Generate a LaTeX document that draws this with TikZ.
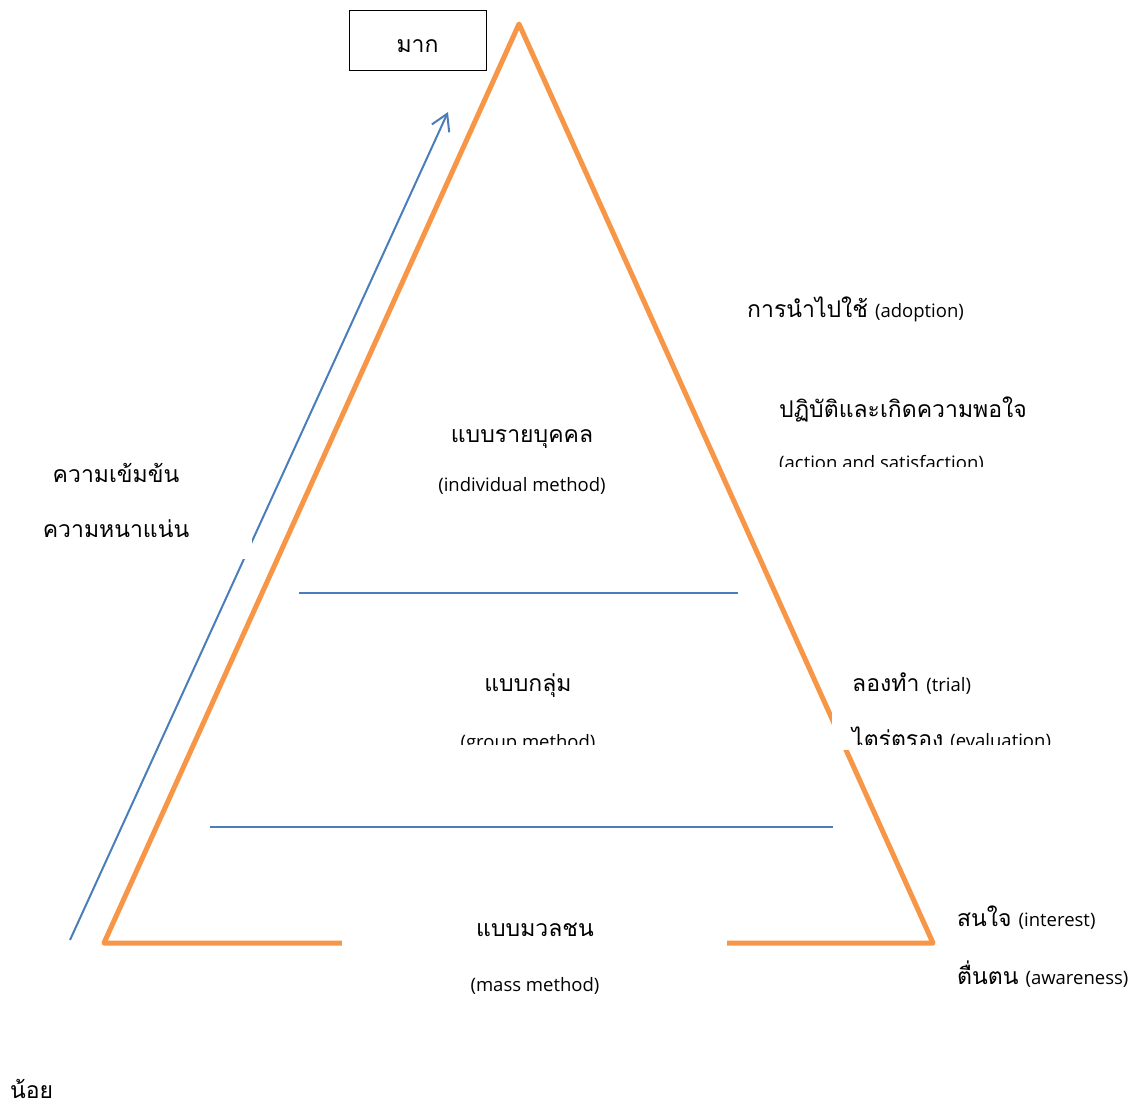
\documentclass[tikz,border=0pt]{standalone}
\usepackage{fontspec}
\usetikzlibrary{arrows.meta}
\newfontfamily\thaifont[Script=Thai]{Loma}
\newfontfamily\latfont{Open Sans}
\definecolor{pyr}{HTML}{F79646}
\definecolor{arr}{HTML}{4A7EBB}
\newcommand{\thtxt}[1]{{\thaifont\fontsize{23}{27}\selectfont #1}}
\newcommand{\latxt}[1]{{\latfont\fontsize{18.5}{22}\selectfont #1}}
\newcommand{\gap}{\hspace{7pt}}
\tikzset{
  pyrline/.style={draw=pyr, line width=5pt},
  bluearrow/.style={draw=arr, line width=2pt, -{Straight Barb[length=16pt,width=19pt,line width=2pt]}},
  level/.style={draw=arr, line width=1.6pt},
  frame/.style={fill=white, draw=none},
  txt/.style={inner sep=0pt, text=black, anchor=base},
  ltxt/.style={inner sep=0pt, text=black, anchor=base west},
}
\begin{document}
\begin{tikzpicture}[x=1pt,y=-1pt]
\useasboundingbox[fill=white] (0,0) rectangle (1137,1111);
% pyramid
\coordinate (apex) at (519,24);
\coordinate (bl) at (104,943);
\coordinate (br) at (933,943);
\draw[pyrline, line join=round] (bl) -- (apex) -- (br) -- cycle;
% level lines
\coordinate (l1a) at (299,593); \coordinate (l1b) at (738,593);
\coordinate (l2a) at (210,827); \coordinate (l2b) at (833,827);
\draw[level] (l1a) -- (l1b);
\draw[level] (l2a) -- (l2b);
% blue arrow
\coordinate (as) at (70,940); \coordinate (ae) at (448,112);
\draw[bluearrow] (as) -- (ae);
% text frames (white, covering lines)
\fill[frame] (30,445) rectangle (252,559);
\fill[frame] (725,380) rectangle (1045,468);
\fill[frame] (832,655) rectangle (1065,750);
\fill[frame] (420,655) rectangle (640,746);
\fill[frame] (342,895) rectangle (727,1005);
% top box
\node[draw=black, line width=1pt, minimum width=137pt, minimum height=60pt, inner sep=0pt] (many) at (417.5,40) {};
\node[txt] (manyT) at (417.5,52) {\thtxt{มาก}};
% left labels
\node[txt] (dens1) at (116,482) {\thtxt{ความเข้มข้น}};
\node[txt] (dens2) at (116,537) {\thtxt{ความหนาแน่น}};
\node[ltxt] (few) at (10,1098) {\thtxt{น้อย}};
% inner labels
\node[txt] (ind) at (522,442) {\thtxt{แบบรายบุคคล}};
\node[txt] (indE) at (522,491) {\latxt{(individual method)}};
\node[txt] (grp) at (528,691) {\thtxt{แบบกลุ่ม}};
\begin{scope}
\clip (420,655) rectangle (640,744);
\node[txt] (grpE) at (528,748) {\latxt{(group method)}};
\end{scope}
\node[txt] (mass) at (535,936) {\thtxt{แบบมวลชน}};
\node[txt] (massE) at (535,991) {\latxt{(mass method)}};
% right labels
\node[ltxt] (adopt) at (747,317) {\thtxt{การนำไปใช้}\gap\latxt{(adoption)}};
\node[ltxt] (act) at (779,417) {\thtxt{ปฏิบัติและเกิดความพอใจ}};
\begin{scope}
\clip (725,380) rectangle (1045,466);
\node[ltxt] (actE) at (779,469) {\latxt{(action and satisfaction)}};
\end{scope}
\node[ltxt] (trial) at (852,691) {\thtxt{ลองทำ}\gap\latxt{(trial)}};
\begin{scope}
\clip (832,655) rectangle (1065,744);
\node[ltxt] (eval) at (852,747) {\thtxt{ไตร่ตรอง}\gap\latxt{(evaluation)}};
\end{scope}
\node[ltxt] (inter) at (957,926) {\thtxt{สนใจ}\gap\latxt{(interest)}};
\node[ltxt] (aware) at (957,984) {\thtxt{ตื่นตน}\gap\latxt{(awareness)}};
\end{tikzpicture}
\end{document}
